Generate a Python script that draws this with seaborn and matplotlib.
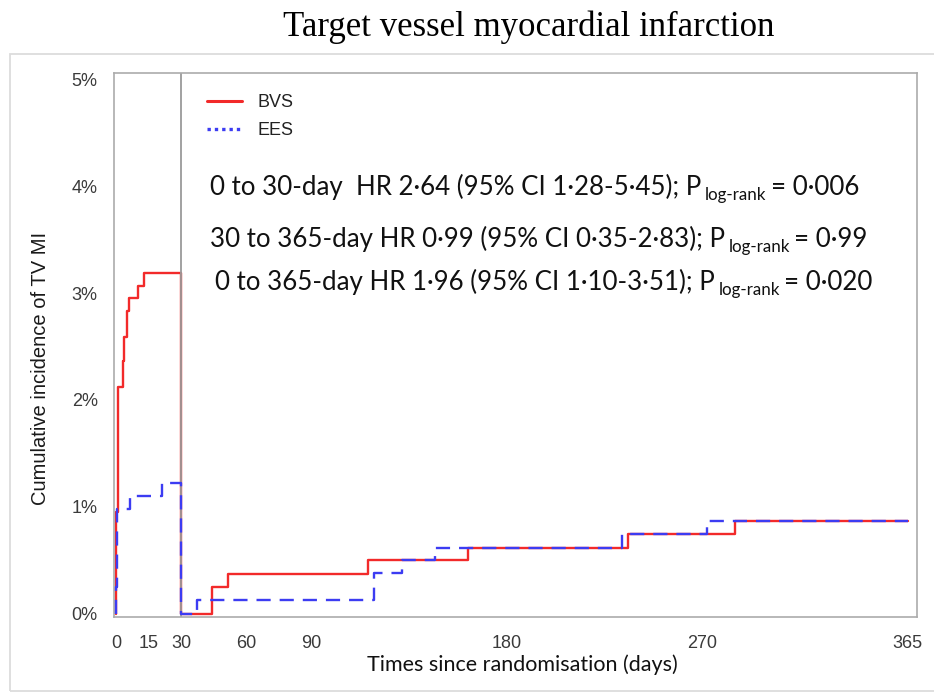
import matplotlib
matplotlib.use("Agg")
import matplotlib.pyplot as plt
import pandas as pd
import seaborn as sns
from matplotlib.lines import Line2D
from matplotlib.patches import Rectangle

# Cumulative incidence (%) by arm; landmark reset at day 30
bvs_days = [0, 0, 1.0, 3.1, 3.8, 4.9, 6.1, 10.3, 13.1, 30, 30, 44.1, 51.8, 116.3, 162.4, 236.2, 285.4, 365]
bvs_pct = [0, 0.95, 2.12, 2.36, 2.59, 2.83, 2.95, 3.07, 3.19, 3.19, 0, 0.25, 0.37, 0.50, 0.62, 0.75, 0.87, 0.87]
ees_days = [0, 0, 0.5, 6.5, 21.0, 30, 30, 37.2, 119.0, 131.7, 147.1, 233.1, 272.3, 365]
ees_pct = [0, 0.25, 0.98, 1.10, 1.22, 1.22, 0, 0.13, 0.38, 0.50, 0.62, 0.75, 0.87, 0.87]

arm_names = ["BVS", "EES"]
arm_colors = {"BVS": "#f22a2a", "EES": "#3c3cf2"}

x_ticks = [0, 15, 30, 60, 90, 180, 270, 365]
y_ticks = [0, 1, 2, 3, 4, 5]
y_tick_labels = ["0%", "1%", "2%", "3%", "4%", "5%"]

title = "Target vessel myocardial infarction"
x_label = "Times since randomisation (days)"
y_label = "Cumulative incidence of TV MI"

stats_main = [
    "0 to 30-day  HR 2·64 (95% CI 1·28-5·45); P",
    "30 to 365-day HR 0·99 (95% CI 0·35-2·83); P",
    "0 to 365-day HR 1·96 (95% CI 1·10-3·51); P",
]
stats_sub = ["log-rank", "log-rank", "log-rank"]
stats_tail = ["= 0·006", "= 0·99", "= 0·020"]

df = pd.DataFrame({
    "day": bvs_days + ees_days,
    "pct": bvs_pct + ees_pct,
    "arm": ["BVS"] * len(bvs_days) + ["EES"] * len(ees_days),
})

sns.set_theme(style="white")
plt.rcParams["font.family"] = ["Liberation Sans", "DejaVu Sans"]

W, H = 934, 693
fig = plt.figure(figsize=(W / 100, H / 100), dpi=100)
fig.patch.set_facecolor("white")

# light outer panel frame
fig.patches.append(Rectangle((10 / W, 1 - 691 / H), 1.2, (691 - 54) / H,
                             transform=fig.transFigure, fill=False,
                             edgecolor="#dcdcdc", lw=1.3))

ax = fig.add_axes([114.3 / W, 1 - 616.5 / H, (916.5 - 114.3) / W, (616.5 - 72.7) / H])

sns.lineplot(data=df[df.arm == "BVS"], x="day", y="pct", color=arm_colors["BVS"],
             estimator=None, sort=False, drawstyle="steps-post", lw=1.7,
             legend=False, ax=ax, zorder=2)
ax.axvline(30, color="#9a9a9a", lw=1.3, zorder=2.5)
sns.lineplot(data=df[df.arm == "EES"], x="day", y="pct", color=arm_colors["EES"],
             estimator=None, sort=False, drawstyle="steps-post", lw=1.7,
             legend=False, ax=ax, zorder=3)
for ln in ax.lines:
    if ln.get_color() == arm_colors["EES"]:
        ln.set_dashes((6, 3.8))

ax.set_xlim(-0.8, 369)
ax.set_ylim(-0.025, 5.06)
ax.set_xticks(x_ticks)
ax.set_yticks(y_ticks)
ax.set_yticklabels(y_tick_labels)
for s in ax.spines.values():
    s.set_color("#ababab")
    s.set_linewidth(1.2)
ax.tick_params(axis="both", direction="out", length=7, width=1.1, color="#ababab",
               labelsize=13, labelcolor="#3a3a3a", pad=5)
ax.tick_params(axis="x", pad=6)

ax.set_xlabel("")
ax.set_ylabel(y_label, fontsize=14.5, color="#1a1a1a")
ax.yaxis.set_label_coords((50 - 114.3) / (916.5 - 114.3), (616.5 - 368) / (616.5 - 72.7))

fig.text(522 / W, 1 - 665 / H, x_label, family=["Lato", "DejaVu Sans"], fontsize=15.5,
         ha="center", va="center", color="#111111")
fig.text(529 / W, 1 - 27 / H, title, family=["Liberation Serif", "DejaVu Serif"],
         fontsize=25, ha="center", va="center", color="black")

handles = [Line2D([], [], color=arm_colors["BVS"], lw=2.2, ls="-"),
           Line2D([], [], color=arm_colors["EES"], lw=2.4, ls=(0, (1, 1.2)))]
ax.legend(handles, arm_names, loc="upper left", bbox_to_anchor=(207 / W, 1 - 94 / H),
          bbox_transform=fig.transFigure, frameon=False, fontsize=13,
          handlelength=1.95, handletextpad=0.85, labelspacing=0.62,
          borderpad=0, borderaxespad=0, labelcolor="#222222")

# hazard-ratio annotations with subscripted test name
fig.canvas.draw()
renderer = fig.canvas.get_renderer()
line_x = [210, 210, 215]
line_base = [195, 247, 290]
fs_main = 18.6
for main, sub, tail, x0, yb in zip(stats_main, stats_sub, stats_tail, line_x, line_base):
    t1 = fig.text(x0 / W, 1 - yb / H, main, family=["Lato", "DejaVu Sans"],
                  fontsize=fs_main, va="baseline", ha="left", color="#111111")
    bb = t1.get_window_extent(renderer)
    t2 = fig.text((bb.x1 + 4) / W, 1 - (yb + 5) / H, sub, family=["Lato", "DejaVu Sans"],
                  fontsize=fs_main * 0.66, va="baseline", ha="left", color="#111111")
    bb2 = t2.get_window_extent(renderer)
    fig.text((bb2.x1 + 4) / W, 1 - yb / H, tail, family=["Lato", "DejaVu Sans"],
             fontsize=fs_main, va="baseline", ha="left", color="#111111")

fig.savefig("out.png", dpi=100, facecolor="white")
